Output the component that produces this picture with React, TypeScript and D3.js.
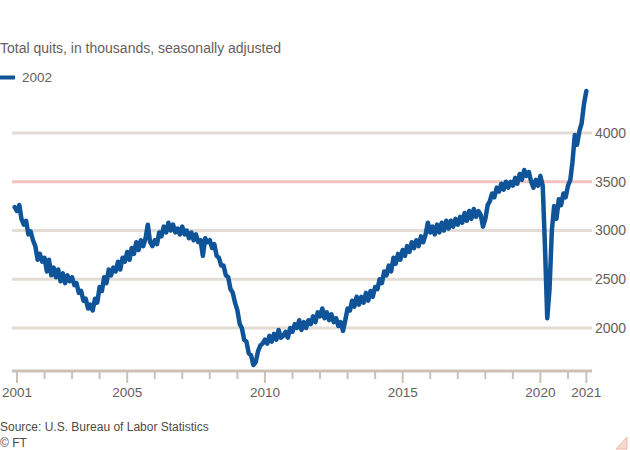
import React, { useEffect, useRef } from "react";
import * as d3 from "d3";

// Monthly quits (thousands), from Dec 2000 to Sep 2021
const startDate = new Date(2000, 11, 1);
const quits = [
  3240, // 2000 Dec
  3200, 3260, 3120, 3060, 3100, 2960, 2990, 2900, 2840, 2700, 2760, 2680, // 2001
  2720, 2580, 2700, 2540, 2620, 2520, 2600, 2480, 2560, 2460, 2540, 2480, // 2002
  2520, 2440, 2460, 2360, 2380, 2280, 2300, 2200, 2240, 2180, 2300, 2260, // 2003
  2420, 2380, 2520, 2460, 2600, 2540, 2620, 2580, 2680, 2600, 2720, 2680, // 2004
  2780, 2700, 2820, 2760, 2880, 2800, 2900, 2840, 2920, 3060, 2880, 2840, // 2005
  2900, 2860, 2980, 2940, 3040, 2980, 3080, 3000, 3060, 2980, 3020, 2960, // 2006
  3040, 2960, 3000, 2920, 2980, 2900, 2960, 2880, 2900, 2740, 2920, 2880, // 2007
  2900, 2820, 2860, 2740, 2720, 2640, 2640, 2540, 2520, 2400, 2360, 2260, // 2008
  2180, 2040, 2000, 1880, 1860, 1740, 1720, 1620, 1650, 1760, 1820, 1840, // 2009
  1880, 1840, 1920, 1860, 1940, 1880, 1980, 1900, 1920, 1960, 1900, 2000, // 2010
  1960, 2040, 2000, 2080, 1980, 2060, 2000, 2080, 2040, 2120, 2060, 2160, // 2011
  2120, 2200, 2100, 2160, 2080, 2140, 2060, 2100, 2020, 2060, 1970, 2080, // 2012
  2200, 2180, 2280, 2220, 2320, 2240, 2320, 2260, 2360, 2280, 2380, 2320, // 2013
  2420, 2400, 2500, 2460, 2580, 2540, 2640, 2580, 2720, 2660, 2760, 2700, // 2014
  2800, 2740, 2840, 2780, 2880, 2820, 2900, 2840, 2940, 2880, 2960, 3080, // 2015
  2980, 3040, 2960, 3060, 2980, 3080, 3000, 3100, 3020, 3100, 3040, 3120, // 2016
  3060, 3140, 3080, 3180, 3100, 3200, 3120, 3220, 3140, 3200, 3160, 3040, // 2017
  3120, 3260, 3300, 3380, 3340, 3440, 3400, 3480, 3420, 3500, 3440, 3500, // 2018
  3460, 3540, 3480, 3580, 3520, 3620, 3560, 3600, 3500, 3440, 3520, 3460, // 2019
  3560, 3460, 2850, 2100, 2400, 3000, 3250, 3120, 3320, 3260, 3380, 3340, // 2020
  3460, 3520, 3700, 3980, 3880, 4020, 4100, 4300, 4430, // 2021
];

const gridValues = [2000, 2500, 3000, 4000];
const highlightValue = 3500;
const tickYears = d3.range(2001, 2022);
const labelYears = [2001, 2005, 2010, 2015, 2020];
const endLabel = "2021";

const title = "Total quits, in thousands, seasonally adjusted";
const legendLabel = "2002";
const source = "Source: U.S. Bureau of Labor Statistics";
const credit = "© FT";

const W = 630;
const H = 450;
const textColor = "#66605c";
const lineColor = "#0f5499";
const font = "'Liberation Sans', Arial, sans-serif";

export default function App() {
  const svgRef = useRef<SVGSVGElement>(null);

  useEffect(() => {
    const svg = d3.select(svgRef.current);
    svg.selectAll("*").remove();

    const data = quits.map((v, i) => ({
      date: d3.timeMonth.offset(startDate, i),
      value: v,
    }));
    const lastDate = data[data.length - 1].date;

    const x = d3
      .scaleTime()
      .domain([new Date(2001, 0, 1), new Date(2021, 0, 1)])
      .range([17, 568]);
    const y = d3.scaleLinear().domain([2000, 4000]).range([328, 133]);

    const left = 12;
    const right = 592;
    const axisY = 371;

    // title + legend
    svg.append("text")
      .attr("x", 0).attr("y", 53)
      .attr("font-size", 14).attr("fill", textColor)
      .text(title);
    svg.append("line")
      .attr("x1", 0).attr("x2", 15).attr("y1", 77.5).attr("y2", 77.5)
      .attr("stroke", lineColor).attr("stroke-width", 4);
    svg.append("text")
      .attr("x", 22).attr("y", 82)
      .attr("font-size", 13.5).attr("fill", textColor)
      .text(legendLabel);

    // gridlines
    const grid = svg.append("g");
    grid.selectAll("line")
      .data(gridValues)
      .join("line")
      .attr("x1", left).attr("x2", right)
      .attr("y1", (d) => y(d)).attr("y2", (d) => y(d))
      .attr("stroke", "#e3dcd4").attr("stroke-width", 3);
    grid.append("line")
      .attr("x1", left).attr("x2", right)
      .attr("y1", y(highlightValue)).attr("y2", y(highlightValue))
      .attr("stroke", "#f4c2bf").attr("stroke-width", 3);

    grid.selectAll("text")
      .data([...gridValues, highlightValue])
      .join("text")
      .attr("x", 595).attr("y", (d) => y(d))
      .attr("dy", "0.35em")
      .attr("font-size", 14).attr("fill", textColor)
      .text((d) => d3.format("d")(d));

    // x axis
    const axis = svg.append("g");
    axis.append("line")
      .attr("x1", left).attr("x2", right)
      .attr("y1", axisY).attr("y2", axisY)
      .attr("stroke", "#ccc1b7").attr("stroke-width", 3);
    const ticks = [
      ...tickYears.map((yr) => ({ date: new Date(yr, 0, 1), label: labelYears.includes(yr) ? String(yr) : "" })),
      { date: lastDate, label: endLabel },
    ];
    axis.selectAll(".tick")
      .data(ticks)
      .join("line")
      .attr("class", "tick")
      .attr("x1", (d) => x(d.date)).attr("x2", (d) => x(d.date))
      .attr("y1", axisY).attr("y2", (d) => (d.label ? 383 : 379))
      .attr("stroke", "#ccc1b7").attr("stroke-width", 2);
    axis.selectAll(".lbl")
      .data(ticks.filter((d) => d.label))
      .join("text")
      .attr("class", "lbl")
      .attr("x", (d) => x(d.date)).attr("y", 397)
      .attr("text-anchor", "middle")
      .attr("font-size", 13.5).attr("fill", textColor)
      .text((d) => d.label);

    // data line
    const line = d3
      .line<{ date: Date; value: number }>()
      .x((d) => x(d.date))
      .y((d) => y(d.value));
    svg.append("path")
      .datum(data)
      .attr("d", line)
      .attr("fill", "none")
      .attr("stroke", lineColor)
      .attr("stroke-width", 4.5)
      .attr("stroke-linejoin", "round")
      .attr("stroke-linecap", "round");

    // footer
    svg.append("text")
      .attr("x", 0).attr("y", 431)
      .attr("font-size", 12).attr("fill", "#4f4a46")
      .text(source);
    svg.append("text")
      .attr("x", 0).attr("y", 447)
      .attr("font-size", 12).attr("fill", "#4f4a46")
      .text(credit);

    // small corner mark
    svg.append("path")
      .attr("d", "M616,449 L627,449 L627,437 Z")
      .attr("fill", "#f6d9cf")
      .attr("stroke", "#efb8a8")
      .attr("stroke-width", 1);
  }, []);

  return (
    <svg
      ref={svgRef}
      width={W}
      height={H}
      style={{ position: "absolute", left: 0, top: 0, background: "#fff", fontFamily: font }}
    />
  );
}
